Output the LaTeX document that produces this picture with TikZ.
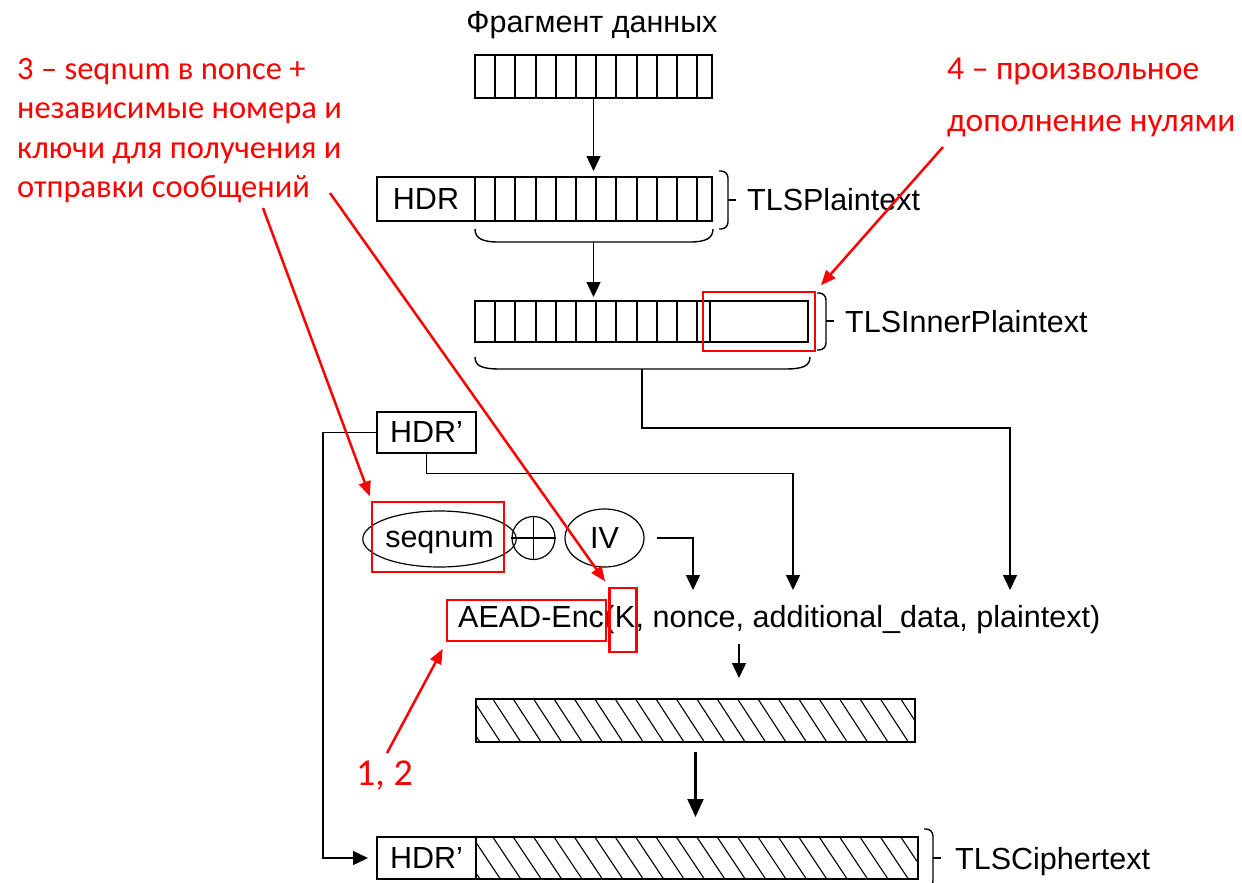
\documentclass[tikz,border=0pt]{standalone}
\usepackage{fontspec}
\setmainfont{Liberation Sans}
\newfontfamily\redfont{Carlito}
\usetikzlibrary{arrows.meta,shapes.geometric,calc,fit}
\begin{document}
\begin{tikzpicture}[x=1pt,y=-1pt,
  box/.style={draw,line width=1.3pt,inner sep=0pt,outer sep=0pt},
  divider/.style={line width=1.6pt},
  blk/.style={font=\fontsize{30.5}{36}\selectfont,inner sep=0pt},
  redtext/.style={font=\redfont\fontsize{32.5}{39}\selectfont,text=red,inner sep=0pt,anchor=base west},
  conn/.style={line width=1.4pt},
  arr/.style={conn,-{Triangle[length=15pt,width=14pt]}},
  thickarr/.style={line width=2.2pt,-{Triangle[length=18pt,width=16pt]}},
  redarrow/.style={draw=red,line width=2.5pt,-{Triangle[length=15pt,width=12pt]}},
  redbox/.style={draw=red,line width=2.5pt,inner sep=0pt,outer sep=0pt},
  hatchline/.style={line width=1.1pt},
  oval/.style={draw,ellipse,line width=1.2pt,inner sep=0pt,text depth=0pt}]
\useasboundingbox (0,0) rectangle (1242,883);

% ---- data fragment ----
\node[blk,anchor=base] (title) at (592,33) {Фрагмент данных};
\node[box,minimum width=237pt,minimum height=43pt,anchor=north west] (frag) at (475,55) {};
\foreach \i in {1,...,11} \draw[divider] ({475+round(20.2*\i)},55) -- ({475+round(20.2*\i)},98);

% ---- TLSPlaintext ----
\node[box,blk,minimum width=98pt,minimum height=44pt,anchor=north west] (hdr) at (377,177) {HDR};
\node[box,minimum width=237pt,minimum height=44pt,anchor=north west] (hcells) at (475,177) {};
\foreach \i in {1,...,11} \draw[divider] ({475+round(20.2*\i)},177) -- ({475+round(20.2*\i)},221);
\draw[arr,shorten >=6pt] (frag.south) -- (hcells.north);
\draw[conn,rounded corners=7pt] (719,171) -- (728,171) -- (728,229) -- (719,229);
\draw[conn] (728,200) -- (736,200);
\node[blk,anchor=base west] (tlsp) at (747,210) {TLSPlaintext};
\draw[conn] (475,229) .. controls (475,238) and (482,242) .. (498,242) -- (690,242) .. controls (706,242) and (713,238) .. (713,229);
\coordinate (hb) at (593.5,242);

% ---- TLSInnerPlaintext ----
\node[box,minimum width=235pt,minimum height=41pt,anchor=north west] (icells) at (475,301) {};
\foreach \i in {1,...,11} \draw[divider] ({475+round(20.2*\i)},301) -- ({475+round(20.2*\i)},342);
\node[box,minimum width=98pt,minimum height=41pt,anchor=north west] (pad) at (710,301) {};
\draw[arr,shorten >=4pt] (hb) -- (hb |- icells.north);
\node[redbox,minimum width=112pt,minimum height=59pt,anchor=north west] (padhl) at (703,292) {};
\draw[conn,rounded corners=7pt] (817,293) -- (826,293) -- (826,350) -- (817,350);
\draw[conn] (826,321) -- (834,321);
\node[blk,anchor=base west] (tlsip) at (845,332) {TLSInnerPlaintext};
\draw[conn] (475,357) .. controls (475,366) and (482,369) .. (500,369) -- (785,369) .. controls (803,369) and (810,366) .. (810,357);
\coordinate (ib) at (642,369);

% ---- HDR' and nonce inputs ----
\node[box,blk,minimum width=99pt,minimum height=41pt,anchor=north west] (hdrp) at (377,412) {HDR’};
\node[oval,blk,minimum width=121pt,minimum height=56pt] (seq) at (439.5,539) {seqnum};
\node[draw,circle,line width=1.2pt,minimum size=43pt,inner sep=0pt] (xor) at (533.5,538) {};
\draw[line width=1.2pt] (xor.north) -- (xor.south) (xor.west) -- (xor.east);
\node[oval,blk,minimum width=79pt,minimum height=58pt] (iv) at (604.5,538) {IV};
\node[redbox,minimum width=132pt,minimum height=70pt,anchor=north west] (seqhl) at (372,502) {};

% ---- AEAD line ----
\node[blk,anchor=base west] (aead) at (458,627) {AEAD-Enc};
\node[blk,anchor=base west] (lp) at (aead.base east) {(};
\node[blk,anchor=base west] (K) at (lp.base east) {K};
\node[blk,anchor=base west] (args) at (K.base east) {, nonce, additional\_data, plaintext)};
\node[redbox,fit={($(aead.base west)+(-11,-27)$) ($(aead.base east)+(2,14)$)}] (aeadhl) {};
\node[redbox,fit={($(K.base west)+(-5,-39)$) ($(K.base east)+(1,25)$)}] (khl) {};

\coordinate (nonin) at (693,590);
\coordinate (adin) at (793,590);
\coordinate (ptin) at (1010,590);
\draw[arr] (ib) -- ++(0,59) -| (ptin);
\draw[arr] (hdrp.south) -- ++(0,20.5) -| (adin);
\draw[arr] ([xshift=12pt]iv.east) -| (nonin);

% ---- encrypted block ----
\begin{scope}
  \clip (476,699) rectangle (915,742);
  \foreach \i in {0,...,23} \draw[hatchline] (452+20.4*\i,699) -- ++(28,43);
\end{scope}
\node[box,minimum width=439pt,minimum height=43pt,anchor=north west] (enc) at (476,699) {};
\coordinate (aeadout) at (739,644);
\draw[arr,shorten >=21pt] (aeadout) -- (aeadout |- enc.north);

% ---- TLSCiphertext ----
\node[box,blk,minimum width=99pt,minimum height=42pt,anchor=north west] (hdrp2) at (377,837) {HDR’};
\begin{scope}
  \clip (476,837) rectangle (918,879);
  \foreach \i in {0,...,23} \draw[hatchline] (452+20.4*\i,837) -- ++(28,42);
\end{scope}
\node[box,minimum width=442pt,minimum height=42pt,anchor=north west] (ctext) at (476,837) {};
\draw[thickarr,shorten <=10pt,shorten >=20pt] (enc.south) -- (enc.south |- ctext.north);
\draw[arr,shorten >=9pt] (hdrp.west) -- ++(-54,0) |- (hdrp2.west);
\draw[conn,rounded corners=7pt] (924,829) -- (933,829) -- (933,888) -- (924,888);
\draw[conn] (933,858) -- (941,858);
\node[blk,anchor=base west] (tlsc) at (955,869) {TLSCiphertext};

% ---- red annotations ----
\node[redtext] (l1) at (17,80) {3 – seqnum в nonce +};
\node[redtext] (l2) at (17,118.5) {независимые номера и};
\node[redtext] (l3) at (17,158) {ключи для получения и};
\node[redtext] (l4) at (17,197) {отправки сообщений};
\node[redtext,font=\redfont\fontsize{33.5}{40}\selectfont] (r1) at (947,80) {4 – произвольное};
\node[redtext,font=\redfont\fontsize{33.5}{40}\selectfont] (r2) at (947,131.5) {дополнение нулями};
\node[redtext,font=\redfont\fontsize{38}{44}\selectfont] (n12) at (356,785) {1, 2};

\coordinate (a1) at (263,208);
\coordinate (a2) at (330,193);
\coordinate (a3) at (943,147);
\coordinate (a4) at (387,753);
\draw[redarrow,shorten >=6pt] (a1) -- (seqhl.north west);
\draw[redarrow,shorten >=8pt] (a2) -- (khl.north west);
\draw[redarrow,shorten >=9pt] (a3) -- (padhl.north east);
\draw[redarrow,shorten >=9pt] (a4) -- (aeadhl.south west);
\end{tikzpicture}
\end{document}
